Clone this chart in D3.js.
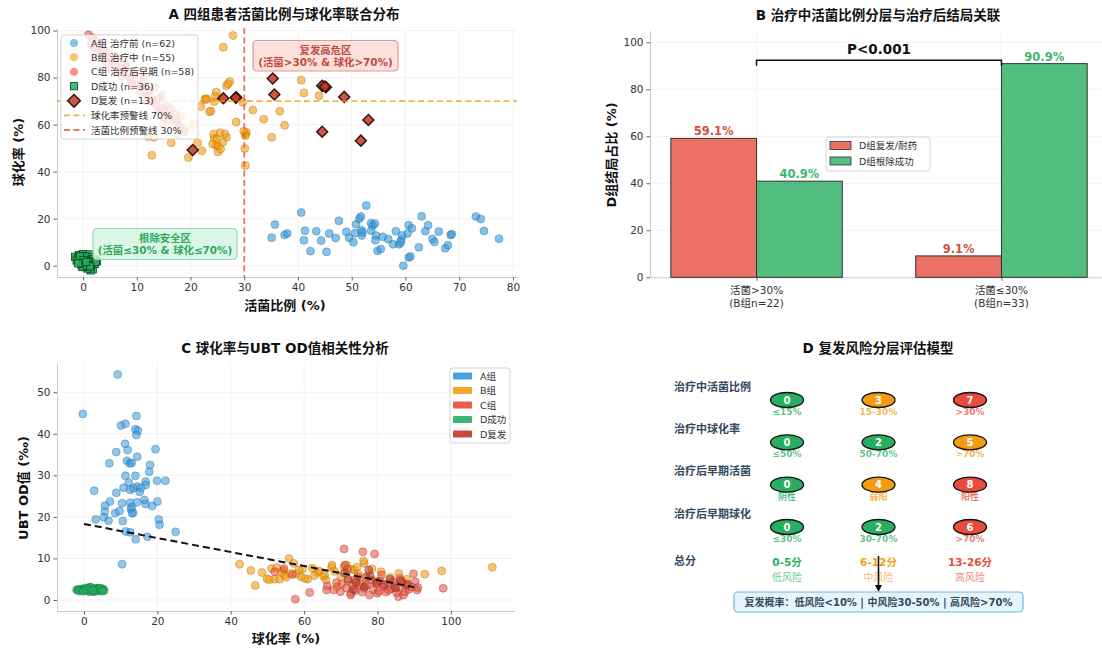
<!DOCTYPE html>
<html><head><meta charset="utf-8">
<script src="https://cdn.jsdelivr.net/npm/d3@7"></script>
<style>
body{margin:0;background:#fff;}
text{font-family:"DejaVu Sans","Noto Sans CJK SC",sans-serif;}
</style>
</head><body>
<svg id="c" width="1102" height="650"></svg>
<script>
// ---------------- DATA ----------------
// Panel A: [活菌比例, 球化率]
const aGroupA = [[35.1,11.9],[35.7,17.5],[37.5,13.1],[38.0,13.7],[40.6,22.6],[41.3,14.9],[41.1,10.8],[42.3,6.2],[43.4,14.7],[44.3,10.7],[45.3,5.9],[45.8,13.7],[47.0,11.8],[47.6,19.1],[49.0,14.4],[49.5,11.9],[50.3,10.0],[50.8,17.6],[50.6,13.8],[51.4,20.0],[51.7,20.9],[51.8,15.1],[51.9,12.9],[52.7,25.6],[53.6,18.1],[53.9,17.1],[54.3,17.9],[53.6,14.9],[54.5,12.8],[54.4,10.8],[54.8,6.3],[55.4,7.1],[55.8,12.3],[56.8,11.3],[57.7,9.1],[58.2,14.7],[58.8,9.1],[59.2,11.0],[59.4,12.9],[60.6,17.2],[61.2,15.9],[60.4,13.7],[60.6,3.5],[60.9,3.9],[59.6,0.0],[62.5,7.8],[63.0,21.0],[63.7,14.7],[64.2,17.2],[65.0,11.4],[65.4,10.1],[66.2,14.5],[67.4,7.4],[67.9,8.7],[68.4,13.1],[68.6,13.4],[73.1,20.9],[74.0,19.9],[74.6,14.8],[77.4,11.5],[52.0,14.2],[59.1,9.9]];
const aGroupB = [[26.1,92.9],[27.9,97.9],[27.3,78.3],[26.7,76.5],[24.8,73.8],[22.7,70.9],[23.0,71.0],[24.4,69.8],[21.9,67.7],[23.8,65.8],[25.8,71.2],[29.7,69.5],[28.5,61.1],[31.6,66.2],[33.6,62.3],[36.6,65.7],[37.5,59.7],[35.1,54.6],[30.2,56.0],[30.4,56.7],[30.1,49.9],[30.2,42.6],[25.5,56.6],[24.4,54.3],[24.7,51.3],[26.7,54.6],[25.1,48.4],[21.3,52.3],[19.6,46.0],[16.4,52.3],[12.8,47.0],[12.1,54.9],[40.6,78.9],[41.1,73.5],[43.9,72.3],[24.3,56.0],[24.9,53.9],[24.1,51.8],[25.2,50.8],[22.1,48.9],[13.2,54.6],[30.2,55.3],[22.8,70.6],[23.5,65.5],[19.0,58.5],[17.5,56.0],[20.5,60.0],[15.0,60.5],[18.2,63.5],[26.0,52.5],[25.6,49.6],[29.9,57.2],[27.0,77.4],[24.6,72.0],[26.4,56.0]];
const aGroupC = [[1.0,98.2],[1.5,94.5],[2.2,96.0],[2.8,92.0],[3.3,93.5],[3.9,90.2],[4.4,88.6],[4.9,91.0],[5.5,87.0],[6.0,85.5],[6.4,88.0],[7.0,83.8],[7.5,82.0],[8.1,84.5],[8.6,80.3],[9.0,78.6],[9.5,81.2],[10.1,77.0],[10.6,75.4],[11.0,78.0],[11.5,73.8],[12.1,72.0],[12.6,74.6],[13.0,70.5],[13.6,68.8],[14.1,71.2],[14.5,67.0],[15.0,65.5],[15.6,68.0],[16.0,63.8],[16.5,62.0],[17.1,64.4],[17.6,60.5],[18.0,58.8],[3.0,89.0],[5.0,84.0],[7.2,80.5],[9.3,76.2],[11.8,70.0],[13.9,65.8],[2.0,93.0],[4.2,86.5],[6.6,82.2],[8.8,79.4],[10.8,74.0],[12.8,69.6],[15.2,63.0],[1.7,97.0],[3.6,91.5],[5.8,89.2],[7.8,85.8],[9.8,83.0],[11.4,80.0],[13.3,76.0],[14.8,72.6],[16.3,66.5],[17.4,62.3],[18.8,57.0]];
const aDSuccess = [[-1.5,3.8],[-0.8,4.6],[0.0,5.0],[0.6,4.2],[1.2,4.8],[-1.0,3.0],[-0.2,3.4],[0.5,2.8],[1.4,3.6],[2.0,2.4],[2.6,2.0],[-0.5,1.8],[0.2,1.2],[0.9,0.6],[1.6,1.4],[-0.3,0.2],[0.4,-0.4],[1.1,-0.8],[1.8,-1.5],[1.4,-2.0],[0.8,-1.2],[-0.1,-0.6],[2.2,0.8],[1.9,2.8],[-1.2,2.2],[0.3,3.9],[1.0,2.0],[0.0,0.9],[0.7,-0.1],[1.5,0.2],[-0.6,4.0],[2.4,1.6],[0.1,2.4],[1.3,-0.3],[-0.9,1.0],[0.6,1.6]];
const aDRelapse = [[20.4,49.2],[26.1,71.2],[28.5,71.6],[35.3,79.6],[35.6,72.8],[44.5,76.5],[45.2,75.9],[48.6,71.8],[53.1,62.0],[44.5,57.0],[51.7,53.2],[45.0,76.2],[28.4,71.4]];
const aLegendLabels = ["A组 治疗前 (n=62)","B组 治疗中 (n=55)","C组 治疗后早期 (n=58)","D成功 (n=36)","D复发 (n=13)","球化率预警线 70%","活菌比例预警线 30%"];
const aThresholdY = 70, aThresholdX = 30;
const aXTicks = [0,10,20,30,40,50,60,70,80];
const aYTicks = [0,20,40,60,80,100];

// Panel B
const bCategories = ["活菌>30%|(B组n=22)","活菌≤30%|(B组n=33)"];
const bRelapse = [59.1, 9.1];
const bSuccess = [40.9, 90.9];
const bSeries = ["D组复发/耐药","D组根除成功"];
const bYTicks = [0,20,40,60,80,100];

// Panel C: [球化率, UBT OD]
const cGroupA = [[9.2,54.3],[-0.3,44.8],[10.1,42.0],[11.3,42.4],[14.3,44.3],[14.0,41.1],[14.7,40.8],[14.3,39.7],[11.2,37.6],[8.8,35.6],[11.9,36.1],[14.5,34.5],[19.5,36.3],[6.9,32.9],[11.7,33.5],[12.5,32.9],[13.0,33.0],[18.0,32.5],[17.8,30.9],[11.3,29.9],[14.0,29.9],[19.9,28.7],[22.2,28.7],[12.2,28.3],[16.8,28.5],[16.8,27.7],[14.5,27.3],[13.4,26.9],[10.8,27.0],[2.8,26.3],[8.8,25.8],[15.2,26.0],[12.6,26.5],[7.1,23.7],[10.4,23.3],[12.6,23.4],[14.5,23.5],[16.5,24.1],[16.8,23.1],[20.0,23.7],[18.6,22.6],[12.8,21.9],[13.4,21.0],[13.1,20.9],[5.7,22.7],[5.7,21.3],[8.5,20.9],[9.7,21.4],[5.4,19.9],[6.7,19.1],[3.2,19.4],[10.6,19.0],[20.4,19.4],[20.6,18.1],[11.4,16.5],[12.6,16.3],[25.0,16.4],[17.3,15.2],[14.1,14.6],[10.4,8.6],[13.0,22.4],[15.5,27.0]];
const cGroupB = [[42.4,8.6],[45.5,7.1],[46.7,3.5],[48.5,6.6],[49.9,5.1],[51.1,7.6],[51.9,5.0],[53.3,5.0],[54.3,7.2],[54.7,6.0],[55.9,10.0],[56.3,6.4],[57.2,8.8],[59.1,5.6],[59.5,7.4],[61.0,5.0],[62.2,7.7],[63.5,6.6],[65.3,5.6],[65.6,6.0],[67.5,7.9],[67.6,8.4],[69.0,3.2],[70.9,7.9],[71.6,8.4],[72.9,7.4],[73.7,7.2],[74.4,7.9],[76.4,8.8],[76.2,9.4],[78.5,7.5],[92.9,6.2],[97.5,7.0],[111.3,7.9],[52.5,7.8],[55.0,5.5],[57.8,6.3],[60.2,5.2],[64.0,7.0],[66.0,4.8],[68.3,6.9],[70.0,5.6],[72.0,4.6],[74.8,6.2],[77.0,5.3],[79.5,4.6],[81.0,6.8],[83.5,5.4],[85.8,6.4],[88.0,5.0],[50.5,4.9],[53.8,6.6],[58.6,7.2],[62.8,5.9],[75.6,3.6]];
const cGroupC = [[57.6,0.2],[61.5,1.8],[70.9,12.3],[76.0,11.6],[79.2,11.1],[71.1,8.4],[71.8,7.4],[74.6,5.6],[76.9,5.6],[78.3,4.8],[81.1,6.0],[84.3,4.4],[86.1,5.2],[89.8,6.3],[90.3,4.4],[97.9,2.8],[90.8,2.4],[66.1,2.4],[66.3,3.4],[68.1,2.4],[69.9,2.0],[72.7,1.6],[72.7,1.2],[77.8,1.2],[79.9,1.6],[85.7,0.8],[87.1,1.2],[87.5,2.0],[52.0,6.8],[54.5,7.6],[56.8,6.1],[70.2,3.8],[71.5,2.9],[73.2,3.5],[74.0,2.2],[75.1,4.1],[76.3,2.8],[77.2,3.6],[78.8,2.5],[79.6,3.9],[80.4,2.1],[81.5,3.2],[82.3,1.9],[82.9,4.0],[83.8,2.7],[84.6,3.5],[85.2,1.8],[86.0,3.0],[86.8,4.3],[87.9,3.4],[88.6,2.6],[89.4,3.1],[73.8,4.8],[80.7,4.6],[75.8,1.9],[83.0,2.4],[91.0,3.0],[68.8,4.2]];
const cDSuccess = [[-2.0,2.4],[-1.6,2.6],[-1.2,2.3],[-0.8,2.5],[-0.4,2.7],[0.0,2.3],[0.3,2.6],[0.7,2.4],[1.0,2.8],[1.3,2.2],[1.6,3.1],[1.9,2.5],[2.2,2.7],[2.5,2.0],[2.8,2.6],[3.1,2.3],[3.4,2.8],[3.7,2.5],[4.0,2.9],[4.3,2.2],[4.6,2.6],[4.9,2.4],[5.2,2.7],[5.5,2.3],[-1.4,2.2],[0.5,2.9],[1.4,2.0],[2.0,3.0],[2.7,2.3],[3.3,2.1],[3.9,2.6],[4.4,2.8],[5.0,2.1],[0.9,2.5],[-0.2,2.1],[2.4,2.4]];
const cDRelapse = [[72.0,5.0],[74.2,4.3],[76.5,3.2],[78.0,5.8],[79.8,4.2],[81.8,3.7],[83.4,5.0],[84.9,2.9],[86.3,4.6],[88.2,3.8],[73.5,2.6],[77.6,7.2],[71.0,6.5]];
const cTrendX = [0, 90];
const cTrendY = [18.3, 3.1];
const cLegendLabels = ["A组","B组","C组","D成功","D复发"];
const cXTicks = [0,20,40,60,80,100];
const cYTicks = [0,10,20,30,40,50];

// Panel D
const dFactors = ["治疗中活菌比例","治疗中球化率","治疗后早期活菌","治疗后早期球化"];
const dScores = [[0,3,7],[0,2,5],[0,4,8],[0,2,6]];
const dLevels = [["≤15%","15-30%",">30%"],["≤50%","50-70%",">70%"],["阴性","弱阳","阳性"],["≤30%","30-70%",">70%"]];
const dColorKey = [["g","o","r"],["g","g","o"],["g","o","r"],["g","g","r"]];
const dTotals = ["0-5分","6-12分","13-26分"];
const dRisks = ["低风险","中风险","高风险"];
const dSummary = "复发概率：低风险<10% | 中风险30-50% | 高风险>70%";

// ---------------- DRAWING ----------------
const svg = d3.select("#c");
const COL = {blue:"#3498db", orange:"#f39c12", red:"#e74c3c", green:"#27ae60", dark:"#c0392b"};

function styleAxis(g){
  g.selectAll(".domain").attr("stroke","#cccccc").attr("stroke-width",1);
  g.selectAll(".tick line").attr("stroke","#666");
  g.selectAll(".tick text").attr("fill","#333").style("font-size","10.5px")
   .style("font-family",'"DejaVu Sans","Noto Sans CJK SC",sans-serif');
}
function frame(x, y, yt, gridX){
  const [x0,x1] = x.range(), [y1,y0] = y.range();
  const g = svg.append("g");
  g.append("g").selectAll("line").data(yt).join("line")
    .attr("x1",x0).attr("x2",x1).attr("y1",d=>y(d)).attr("y2",d=>y(d))
    .attr("stroke","#efefef").attr("stroke-width",0.8);
  g.append("g").selectAll("line").data(gridX).join("line")
    .attr("y1",y0).attr("y2",y1).attr("x1",d=>x(d)).attr("x2",d=>x(d))
    .attr("stroke","#efefef").attr("stroke-width",0.8);
  return g;
}
function title(t, cx, cy){
  svg.append("text").attr("x",cx).attr("y",cy).attr("text-anchor","middle")
    .attr("dominant-baseline","central").style("font-size","13.5px").style("font-weight","bold").attr("fill","#111").text(t);
}
function label(t, cx, cy, rot){
  const e = svg.append("text").attr("text-anchor","middle").attr("dominant-baseline","central")
    .style("font-size","13px").style("font-weight","bold").attr("fill","#111").text(t);
  if(rot) e.attr("transform",`translate(${cx},${cy}) rotate(-90)`); else e.attr("x",cx).attr("y",cy);
}

// ===== Panel A =====
{
  const x = d3.scaleLinear().domain([-4.85, 80.75]).range([57, 517]);
  const y = d3.scaleLinear().domain([-4.8, 101.1]).range([277, 28]);
  frame(x, y, aYTicks, aXTicks);
  const gx = svg.append("g").attr("transform","translate(0,277)").call(d3.axisBottom(x).tickValues(aXTicks).tickSize(3.5).tickSizeOuter(0).tickPadding(3));
  const gy = svg.append("g").attr("transform","translate(57,0)").call(d3.axisLeft(y).tickValues(aYTicks).tickSize(3.5).tickSizeOuter(0).tickPadding(3));
  styleAxis(gx); styleAxis(gy);
  const pts = (data, c, stroke) => svg.append("g").selectAll("circle").data(data).join("circle")
    .attr("cx",d=>x(d[0])).attr("cy",d=>y(d[1])).attr("r",4)
    .attr("fill",c).attr("fill-opacity",0.6).attr("stroke",stroke).attr("stroke-opacity",0.6).attr("stroke-width",0.6);
  pts(aGroupA, COL.blue, "#1f618d");
  pts(aGroupB, COL.orange, "#9c6400");
  pts(aGroupC, COL.red, "#922b21");
  svg.append("g").selectAll("rect").data(aDSuccess).join("rect")
    .attr("x",d=>x(d[0])-3.6).attr("y",d=>y(d[1])-3.6).attr("width",7.2).attr("height",7.2)
    .attr("fill",COL.green).attr("fill-opacity",0.85).attr("stroke","#0b3d1e").attr("stroke-width",0.8);
  svg.append("g").selectAll("path").data(aDRelapse).join("path")
    .attr("d", d3.symbol().type(d3.symbolSquare).size(60)())
    .attr("transform",d=>`translate(${x(d[0])},${y(d[1])}) rotate(45)`)
    .attr("fill",COL.dark).attr("fill-opacity",0.85).attr("stroke","#3b1410").attr("stroke-width",1.5);
  svg.append("line").attr("x1",57).attr("x2",517).attr("y1",y(aThresholdY)).attr("y2",y(aThresholdY))
    .attr("stroke",COL.orange).attr("stroke-width",1.8).attr("stroke-dasharray","6,3.5").attr("opacity",0.75);
  svg.append("line").attr("x1",x(aThresholdX)).attr("x2",x(aThresholdX)).attr("y1",28).attr("y2",277)
    .attr("stroke",COL.red).attr("stroke-width",1.8).attr("stroke-dasharray","6,3.5").attr("opacity",0.75);
  const ann = (x0,y0,w,h,fill,stroke,tc,lines) => {
    svg.append("rect").attr("x",x0).attr("y",y0).attr("width",w).attr("height",h).attr("rx",4)
      .attr("fill",fill).attr("fill-opacity",0.85).attr("stroke",stroke).attr("stroke-width",1.2);
    lines.forEach((t,i)=>svg.append("text").attr("x",x0+w/2).attr("y",y0+h/2+(i-0.5)*12.5)
      .attr("text-anchor","middle").attr("dominant-baseline","central").style("font-size","10.4px")
      .style("font-weight","bold").attr("fill",tc).text(t));
  };
  ann(253, 40.5, 145, 30.5, "#fadbd8", "#dd9a92", "#c24a3d", ["复发高危区","(活菌>30% & 球化>70%)"]);
  ann(93, 228.5, 144, 31, "#d5f5e3", "#8fd8ad", "#2eaa5e", ["根除安全区","(活菌≤30% & 球化≤70%)"]);
  const lg = svg.append("g");
  lg.append("rect").attr("x",61).attr("y",35).attr("width",137).attr("height",104).attr("rx",3)
    .attr("fill","#fff").attr("fill-opacity",0.82).attr("stroke","#d5d5d5");
  const ly = [43,57.3,71.7,86.2,100.8,115.4,130];
  aLegendLabels.forEach((t,i)=>{
    lg.append("text").attr("x",91).attr("y",ly[i]).attr("dominant-baseline","central")
      .style("font-size","9.5px").attr("fill","#333").text(t);
  });
  [COL.blue, COL.orange, COL.red].forEach((c,i)=>lg.append("circle").attr("cx",74).attr("cy",ly[i]).attr("r",4).attr("fill",c).attr("fill-opacity",0.6));
  lg.append("rect").attr("x",70.4).attr("y",ly[3]-3.6).attr("width",7.2).attr("height",7.2).attr("fill",COL.green).attr("fill-opacity",0.85).attr("stroke","#0b3d1e").attr("stroke-width",0.8);
  lg.append("path").attr("d", d3.symbol().type(d3.symbolSquare).size(80)())
    .attr("transform",`translate(74,${ly[4]}) rotate(45)`).attr("fill",COL.dark).attr("fill-opacity",0.85).attr("stroke","#3b1410").attr("stroke-width",1.5);
  lg.append("line").attr("x1",64).attr("x2",85).attr("y1",ly[5]).attr("y2",ly[5]).attr("stroke",COL.orange).attr("stroke-width",1.8).attr("stroke-dasharray","6,3.5").attr("opacity",0.75);
  lg.append("line").attr("x1",64).attr("x2",85).attr("y1",ly[6]).attr("y2",ly[6]).attr("stroke",COL.red).attr("stroke-width",1.8).attr("stroke-dasharray","6,3.5").attr("opacity",0.75);
  title("A 四组患者活菌比例与球化率联合分布", 284, 14);
  label("活菌比例 (%)", 285, 305, false);
  label("球化率 (%)", 18, 152, true);
}

// ===== Panel B =====
{
  const x = d3.scaleLinear().domain([-0.435, 1.435]).range([650, 1108]);
  const y = d3.scaleLinear().domain([0, 105]).range([277.3, 30.5]);
  frame(x, y, bYTicks, [0,1]);
  const gx = svg.append("g").attr("transform","translate(0,277.3)").call(d3.axisBottom(x).tickValues([0,1]).tickFormat(()=>"").tickSize(3.5).tickSizeOuter(0));
  const gy = svg.append("g").attr("transform","translate(650,0)").call(d3.axisLeft(y).tickValues(bYTicks).tickSize(3.5).tickSizeOuter(0).tickPadding(3));
  styleAxis(gx); styleAxis(gy);
  bCategories.forEach((c,i)=>{
    c.split("|").forEach((t,j)=>svg.append("text").attr("x",x(i)).attr("y",290+j*13.2)
      .attr("text-anchor","middle").attr("dominant-baseline","central").style("font-size","10.5px").attr("fill","#333").text(t));
  });
  const w = 0.35;
  const bw = x(w) - x(0);
  const series = [{vals:bRelapse, off:-w/2, fill:COL.red, tc:"#d3503f"},{vals:bSuccess, off:w/2, fill:COL.green, tc:"#3cb56d"}];
  series.forEach(s=>{
    svg.append("g").selectAll("rect").data(s.vals).join("rect")
      .attr("x",(d,i)=>x(i+s.off)-bw/2).attr("width",bw)
      .attr("y",d=>y(d)).attr("height",d=>y(0)-y(d))
      .attr("fill",s.fill).attr("fill-opacity",0.8).attr("stroke","#333").attr("stroke-width",1);
    svg.append("g").selectAll("text").data(s.vals).join("text")
      .attr("x",(d,i)=>x(i+s.off)).attr("y",d=>y(d+1.3)).attr("text-anchor","middle")
      .style("font-size","11.5px").style("font-weight","bold").attr("fill",s.tc).text(d=>d.toFixed(1)+"%");
  });
  const by = y(92.3), bt = y(90);
  svg.append("path").attr("d",`M${x(0)},${bt}V${by}H${x(1)}V${bt}`).attr("fill","none").attr("stroke","#111").attr("stroke-width",1.5);
  svg.append("text").attr("x",(x(0)+x(1))/2).attr("y",y(97)).attr("text-anchor","middle").attr("dominant-baseline","central")
    .style("font-size","13.5px").style("font-weight","bold").attr("fill","#111").text("P<0.001");
  const lg = svg.append("g");
  lg.append("rect").attr("x",826).attr("y",137).attr("width",104).attr("height",34).attr("rx",3).attr("fill","#fff").attr("fill-opacity",0.85).attr("stroke","#d5d5d5");
  [COL.red, COL.green].forEach((c,i)=>{
    lg.append("rect").attr("x",830).attr("y",141.5+i*15.5).attr("width",21).attr("height",8).attr("fill",c).attr("fill-opacity",0.8).attr("stroke","#333").attr("stroke-width",0.8);
    lg.append("text").attr("x",859).attr("y",145.5+i*15.5).attr("dominant-baseline","central").style("font-size","9.5px").attr("fill","#333").text(bSeries[i]);
  });
  title("B 治疗中活菌比例分层与治疗后结局关联", 878, 15);
  label("D组结局占比 (%)", 611, 155, true);
}

// ===== Panel C =====
{
  const x = d3.scaleLinear().domain([-7.35, 117.2]).range([57, 514]);
  const y = d3.scaleLinear().domain([-2.65, 57.05]).range([611, 363]);
  frame(x, y, cYTicks, cXTicks);
  const gx = svg.append("g").attr("transform","translate(0,611)").call(d3.axisBottom(x).tickValues(cXTicks).tickSize(3.5).tickSizeOuter(0).tickPadding(3));
  const gy = svg.append("g").attr("transform","translate(57,0)").call(d3.axisLeft(y).tickValues(cYTicks).tickSize(3.5).tickSizeOuter(0).tickPadding(3));
  styleAxis(gx); styleAxis(gy);
  const pts = (data, c, stroke, op) => svg.append("g").selectAll("circle").data(data).join("circle")
    .attr("cx",d=>x(d[0])).attr("cy",d=>y(d[1])).attr("r",4)
    .attr("fill",c).attr("fill-opacity",op).attr("stroke",stroke).attr("stroke-opacity",0.6).attr("stroke-width",0.6);
  pts(cGroupA, COL.blue, "#1f618d", 0.55);
  pts(cGroupB, COL.orange, "#9c6400", 0.6);
  pts(cGroupC, COL.red, "#922b21", 0.55);
  pts(cDSuccess, COL.green, "#0b5e2c", 0.7);
  pts(cDRelapse, COL.dark, "#5b1a12", 0.6);
  const line = d3.line().x(d=>x(d[0])).y(d=>y(d[1]));
  svg.append("path").attr("d", line(cTrendX.map((v,i)=>[v,cTrendY[i]])))
    .attr("fill","none").attr("stroke","#111").attr("stroke-width",2).attr("stroke-dasharray","7,4");
  const lg = svg.append("g");
  lg.append("rect").attr("x",450).attr("y",368).attr("width",60).attr("height",75).attr("rx",3).attr("fill","#fff").attr("fill-opacity",0.85).attr("stroke","#d5d5d5");
  const lcs = [COL.blue, COL.orange, COL.red, COL.green, COL.dark];
  cLegendLabels.forEach((t,i)=>{
    const yy = 376+i*14.5;
    lg.append("rect").attr("x",453).attr("y",yy-3.5).attr("width",19).attr("height",7).attr("rx",1).attr("fill",lcs[i]).attr("fill-opacity",0.9);
    lg.append("text").attr("x",480).attr("y",yy).attr("dominant-baseline","central").style("font-size","9.5px").attr("fill","#333").text(t);
  });
  title("C 球化率与UBT OD值相关性分析", 285, 348);
  label("球化率 (%)", 286, 638, false);
  label("UBT OD值 (‰)", 23, 488, true);
}

// ===== Panel D =====
{
  const cx = d3.scalePoint().domain([0,1,2]).range([787, 970]);
  const ry = d3.scalePoint().domain([0,1,2,3]).range([400, 527]);
  const cmap = {g:COL.green, o:COL.orange, r:COL.red};
  dFactors.forEach((f,i)=>{
    svg.append("text").attr("x",674).attr("y",ry(i)-13).attr("dominant-baseline","central")
      .style("font-size","11px").style("font-weight","bold").attr("fill","#34495e").text(f);
    dScores[i].forEach((s,j)=>{
      const c = cmap[dColorKey[i][j]];
      svg.append("text").attr("x",cx(j)).attr("y",ry(i)+12).attr("text-anchor","middle").attr("dominant-baseline","central")
        .style("font-size","9px").style("font-weight","bold").attr("fill",c).attr("fill-opacity",0.75).text(dLevels[i][j]);
      svg.append("ellipse").attr("cx",cx(j)).attr("cy",ry(i)).attr("rx",16.5).attr("ry",7.5)
        .attr("fill",c).attr("stroke","#111").attr("stroke-width",1.3);
      svg.append("text").attr("x",cx(j)).attr("y",ry(i)).attr("text-anchor","middle").attr("dominant-baseline","central")
        .style("font-size","10px").style("font-weight","bold").attr("fill","#fff").text(s);
    });
  });
  svg.append("text").attr("x",674).attr("y",561).attr("dominant-baseline","central")
    .style("font-size","11px").style("font-weight","bold").attr("fill","#34495e").text("总分");
  const tc = [COL.green, COL.orange, COL.red];
  dTotals.forEach((t,j)=>{
    svg.append("text").attr("x",cx(j)).attr("y",562).attr("text-anchor","middle").attr("dominant-baseline","central")
      .style("font-size","10.5px").style("font-weight","bold").attr("fill",tc[j]).text(t);
    svg.append("text").attr("x",cx(j)).attr("y",577).attr("text-anchor","middle").attr("dominant-baseline","central")
      .style("font-size","10px").attr("fill",tc[j]).attr("fill-opacity",0.7).text(dRisks[j]);
  });
  svg.append("line").attr("x1",cx(1)).attr("x2",cx(1)).attr("y1",556).attr("y2",587).attr("stroke","#111").attr("stroke-width",1.6);
  svg.append("path").attr("d",`M${cx(1)-3.5},${585}L${cx(1)+3.5},${585}L${cx(1)},${592}Z`).attr("fill","#111");
  svg.append("rect").attr("x",734).attr("y",592).attr("width",289).attr("height",20).attr("rx",4)
    .attr("fill","#e8f4fb").attr("stroke","#6fb3e0").attr("stroke-width",1.2);
  svg.append("text").attr("x",878.5).attr("y",602).attr("text-anchor","middle").attr("dominant-baseline","central")
    .style("font-size","10px").style("font-weight","bold").attr("fill","#34495e").text(dSummary);
  title("D 复发风险分层评估模型", 878, 348);
}
</script>
</body></html>
